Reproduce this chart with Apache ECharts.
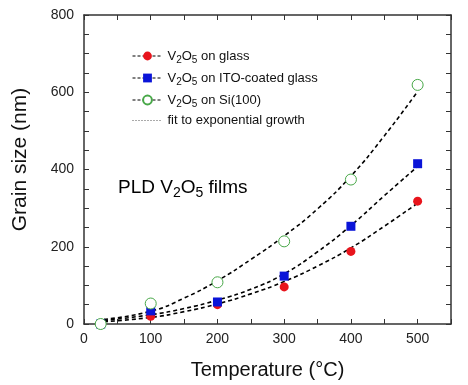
<!DOCTYPE html>
<html lang="en">
<head>
<meta charset="UTF-8" />
<script src="https://cdn.jsdelivr.net/npm/echarts@6/dist/echarts.min.js"></script>
<style>
html,body{margin:0;padding:0;background:#fff}
#main{width:468px;height:385px}
</style>
</head>
<body>
<div id="main"></div>
<script type="text/javascript">
// measured points (temperature °C, grain size nm)
var tGlass = [25, 100, 200, 300, 400, 500];
var glass = [0, 20, 50, 96, 188, 318];
var tIto = [25, 100, 200, 300, 400, 500];
var ito = [0, 34, 57, 124, 253, 415];
var tSi = [25, 100, 200, 300, 400, 500];
var si = [0, 53, 108, 214, 374, 619];

// fitted curves
var tFit = [30, 100, 150, 200, 250, 300, 350, 400, 450, 500];
var fitGlass = [6, 17, 32, 52, 78, 110, 150, 197, 253, 313];
var fitIto = [9, 24, 40, 62, 90, 130, 187, 255, 332, 408];
var fitSi = [12, 33, 67, 112, 167, 228, 298, 383, 487, 602];

var xLabels = [0, 100, 200, 300, 400, 500];
var yLabels = [0, 200, 400, 600, 800];

var FONT = '"Liberation Sans", Arial, sans-serif';
var AX = '#333';

function pairs(xs, ys){
	var out = [];
	for(var i=0;i<xs.length;i++){ out.push([xs[i], ys[i]]); }
	return out;
}
// V2O5 -> rich text with subscripts
function chem(name, big){
	var n = big ? 'b' : 'n', s = big ? 'bs' : 's';
	return name.replace(/V2O5/, '{'+n+'|V}{'+s+'|2}{'+n+'|O}{'+s+'|5}{'+n+'|').concat('}')
		.replace(/^(?!\{)/, '{'+n+'|');
}
var rich = {
	n: {fontSize: 13, fontFamily: FONT, color: '#111', lineHeight: 18, verticalAlign: 'middle'},
	s: {fontSize: 10, fontFamily: FONT, color: '#111', lineHeight: 18, verticalAlign: 'bottom', padding: [7, 0, 0, 0]},
	b: {fontSize: 19, fontFamily: FONT, color: '#111', lineHeight: 24, verticalAlign: 'middle'},
	bs: {fontSize: 14, fontFamily: FONT, color: '#111', lineHeight: 24, verticalAlign: 'bottom', padding: [9, 0, 0, 0]}
};

var legendLine = {color: '#000', width: 1, type: [3, 2], opacity: 1};
var hidden = {opacity: 0, width: 0};
var fitStyle = {color: '#000', width: 1.6, type: [4, 3]};

function labelIf(list){
	return function(v){ return list.indexOf(v) >= 0 ? String(v) : ''; };
}
function ticks(){
	return {show: true, inside: true, length: 5, lineStyle: {color: AX, width: 1}};
}
function frame(){
	return {onZero: false, lineStyle: {color: AX, width: 1.5}};
}

var option = {
	animation: false,
	backgroundColor: '#fff',
	grid: {left: 84, right: 17, top: 15, bottom: 60},
	legend: {
		orient: 'vertical', left: 127, top: 43, itemWidth: 30, itemHeight: 11, itemGap: 5,
		textStyle: {rich: rich},
		formatter: function(name){ return chem(name, false); },
		data: [
			{name: 'V2O5 on glass', lineStyle: legendLine},
			{name: 'V2O5 on ITO-coated glass', lineStyle: legendLine},
			{name: 'V2O5 on Si(100)', lineStyle: legendLine},
			{name: 'fit to exponential growth', itemStyle: {opacity: 0},
				lineStyle: {color: '#555', width: 1, type: [1, 2], opacity: 1}}
		]
	},
	graphic: [{
		type: 'text', left: 118, top: 177,
		style: {text: '{b|PLD }' + chem('V2O5 films', true), rich: rich}
	}],
	xAxis: [{
		type: 'value', min: 0, max: 550, interval: 50,
		name: 'Temperature (°C)', nameLocation: 'middle', nameGap: 36,
		nameTextStyle: {fontSize: 20, fontFamily: FONT, color: '#111'},
		axisLine: frame(),
		axisTick: ticks(),
		axisLabel: {fontSize: 14, fontFamily: FONT, color: '#222', margin: 8, formatter: labelIf(xLabels)},
		splitLine: {show: false}
	}, {
		type: 'value', position: 'top', min: 0, max: 550, interval: 50,
		axisLine: frame(),
		axisTick: ticks(), axisLabel: {show: false}, splitLine: {show: false}
	}],
	yAxis: [{
		type: 'value', min: 0, max: 800, interval: 50,
		name: 'Grain size (nm)', nameLocation: 'middle', nameGap: 53,
		nameTextStyle: {fontSize: 21, fontFamily: FONT, color: '#111', padding: [0, 0, 0, 20]},
		axisLine: frame(),
		axisTick: ticks(),
		axisLabel: {fontSize: 14, fontFamily: FONT, color: '#222', margin: 10, formatter: labelIf(yLabels)},
		splitLine: {show: false}
	}, {
		type: 'value', position: 'right', min: 0, max: 800, interval: 50,
		axisLine: frame(),
		axisTick: ticks(), axisLabel: {show: false}, splitLine: {show: false}
	}],
	series: [
		{name: 'fit to exponential growth', type: 'line', smooth: true, symbol: 'none', data: pairs(tFit, fitGlass), lineStyle: fitStyle, z: 2},
		{name: 'fit to exponential growth', type: 'line', smooth: true, symbol: 'none', data: pairs(tFit, fitIto), lineStyle: fitStyle, z: 2},
		{name: 'fit to exponential growth', type: 'line', smooth: true, symbol: 'none', data: pairs(tFit, fitSi), lineStyle: fitStyle, z: 2},
		{name: 'V2O5 on glass', type: 'line', symbol: 'circle', symbolSize: 9, data: pairs(tGlass, glass),
			lineStyle: hidden, itemStyle: {color: '#e8141c'}, z: 3},
		{name: 'V2O5 on ITO-coated glass', type: 'line', symbol: 'rect', symbolSize: 9, data: pairs(tIto, ito),
			lineStyle: hidden, itemStyle: {color: '#0a14d8'}, z: 4},
		{name: 'V2O5 on Si(100)', type: 'line', symbol: 'circle', symbolSize: 11, data: pairs(tSi, si),
			lineStyle: hidden, itemStyle: {color: '#fff', borderColor: '#48a848', borderWidth: 1}, z: 5}
	]
};

var chart = echarts.init(document.getElementById('main'));
chart.setOption(option);
</script>
</body>
</html>
